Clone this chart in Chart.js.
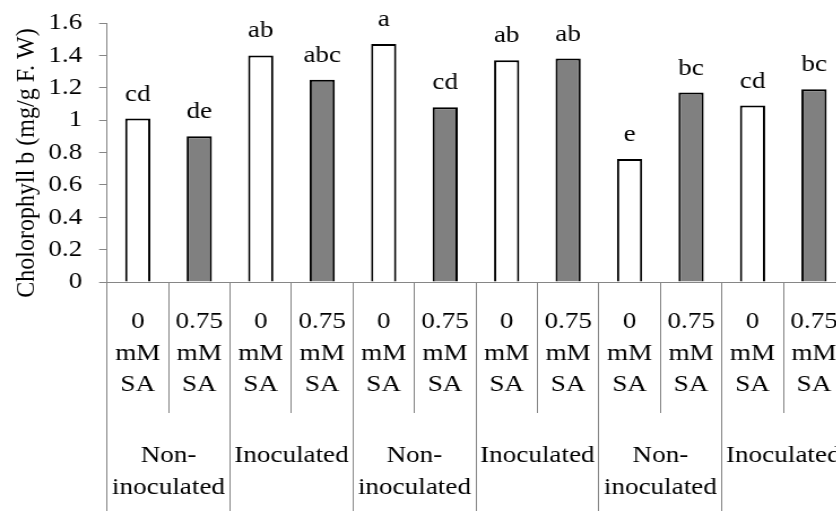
<!DOCTYPE html>
<html>
<head>
<meta charset="utf-8">
<script src="https://cdn.jsdelivr.net/npm/chart.js@4/dist/chart.umd.min.js"></script>
<style>
  html, body { margin: 0; padding: 0; background: #fff; overflow: hidden; }
  #wrap { width: 836px; height: 511px; overflow: hidden; position: relative; }
</style>
</head>
<body>
<!-- the reference picture is stretched sideways a little, so the canvas is too -->
<div id="wrap"><canvas id="chart" width="760" height="511" style="width:858.8px;height:511px"></canvas></div>
<script>
const categories = [
  ["0", "mM", "SA"], ["0.75", "mM", "SA"],
  ["0", "mM", "SA"], ["0.75", "mM", "SA"],
  ["0", "mM", "SA"], ["0.75", "mM", "SA"],
  ["0", "mM", "SA"], ["0.75", "mM", "SA"],
  ["0", "mM", "SA"], ["0.75", "mM", "SA"],
  ["0", "mM", "SA"], ["0.75", "mM", "SA"],
];
const groups = [
  ["Non-", "inoculated"], "Inoculated",
  ["Non-", "inoculated"], "Inoculated",
  ["Non-", "inoculated"], "Inoculated",
];
const values = [1.01, 0.90, 1.40, 1.25, 1.47, 1.08, 1.37, 1.38, 0.76, 1.17, 1.09, 1.19];
const letters = ["cd", "de", "ab", "abc", "a", "cd", "ab", "ab", "e", "bc", "cd", "bc"];
const yMin = 0;
const yMax = 1.6;
const yStep = 0.2;
const yTitle = "Cholorophyll b (mg/g F. W)";

const FONT = '"Liberation Serif", "Times New Roman", serif';
const AXIS_GRAY = "#868686";
const fills = values.map((v, i) => (i % 2 === 0 ? "#ffffff" : "#808080"));

const lettersPlugin = {
  id: "letters",
  afterDatasetsDraw(chart) {
    const ctx = chart.ctx;
    const meta = chart.getDatasetMeta(0);
    ctx.save();
    ctx.font = `24px ${FONT}`;
    ctx.fillStyle = "#000";
    ctx.textAlign = "center";
    ctx.textBaseline = "alphabetic";
    meta.data.forEach((bar, i) => ctx.fillText(letters[i], bar.x, bar.y - 18));

    // y axis title, drawn by hand so it can sit a bit lower than the plot middle
    ctx.translate(29.5, 163);
    ctx.rotate(-Math.PI / 2);
    ctx.fillText(yTitle, 0, 0);
    ctx.restore();
  },
};

new Chart(document.getElementById("chart"), {
  type: "bar",
  data: {
    labels: categories,
    datasets: [{
      data: values,
      backgroundColor: fills,
      borderColor: "#000",
      borderWidth: 2,
      barPercentage: 0.41,
      categoryPercentage: 1,
    }],
  },
  options: {
    responsive: false,
    animation: false,
    devicePixelRatio: 1,
    layout: { padding: { top: 23, right: 12.6, bottom: 0, left: 0 } },
    plugins: { legend: { display: false }, tooltip: { enabled: false } },
    scales: {
      y: {
        min: yMin,
        max: yMax,
        ticks: {
          stepSize: yStep,
          autoSkip: false,
          color: "#000",
          font: { family: FONT, size: 24 },
          padding: 15,
          callback: (v) => String(Number(v.toFixed(2))),
        },
        grid: { drawOnChartArea: false, tickLength: 7, color: AXIS_GRAY },
        border: { color: AXIS_GRAY },
        afterFit: (scale) => {
          scale.width = 94.7;
          // label padding would otherwise push the plot top down
          scale.paddingTop = 0;
          scale.paddingBottom = 0;
        },
      },
      x: {
        weight: 0,
        offset: true,
        ticks: {
          color: "#000",
          font: { family: FONT, size: 24, lineHeight: 1.3125 },
          padding: -107,
          autoSkip: false,
          maxRotation: 0,
          minRotation: 0,
        },
        grid: { offset: true, drawOnChartArea: false, tickLength: 131, color: AXIS_GRAY },
        border: { color: AXIS_GRAY },
        afterFit: (scale) => { scale.height = 131; },
      },
      x2: {
        type: "category",
        position: "bottom",
        weight: 1,
        offset: true,
        labels: groups,
        ticks: {
          color: "#000",
          font: { family: FONT, size: 24, lineHeight: 1.3125 },
          padding: -71,
          autoSkip: false,
          maxRotation: 0,
          minRotation: 0,
        },
        grid: { offset: true, drawOnChartArea: false, tickLength: 98, color: AXIS_GRAY },
        border: { display: false },
        afterFit: (scale) => { scale.height = 98; },
      },
    },
  },
  plugins: [lettersPlugin],
});
</script>
</body>
</html>
